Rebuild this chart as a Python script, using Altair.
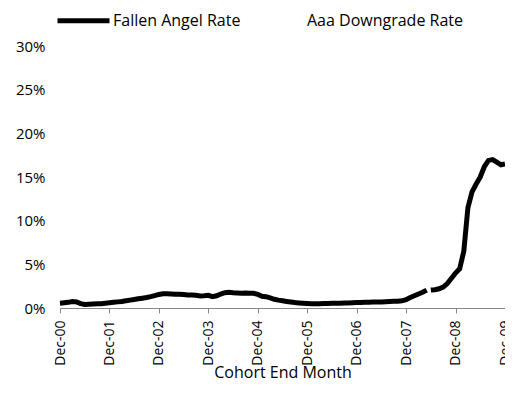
import altair as alt
import pandas as pd

# month index (0 = Dec-00); 89.5 is a break in the series
months = list(range(0, 90)) + [89.5] + list(range(90, 109))

fallen_angel = [
    0.55, 0.60, 0.65, 0.75, 0.70, 0.50, 0.40, 0.42, 0.45, 0.48, 0.50, 0.55,   # Dec-00..Nov-01
    0.60, 0.65, 0.70, 0.75, 0.82, 0.90, 0.98, 1.05, 1.12, 1.20, 1.30, 1.42,   # Dec-01..Nov-02
    1.55, 1.62, 1.62, 1.60, 1.58, 1.57, 1.55, 1.50, 1.48, 1.45, 1.38, 1.40,   # Dec-02..Nov-03
    1.45, 1.30, 1.40, 1.60, 1.75, 1.80, 1.75, 1.72, 1.70, 1.72, 1.70, 1.68,   # Dec-03..Nov-04
    1.55, 1.35, 1.30, 1.15, 1.00, 0.90, 0.82, 0.75, 0.68, 0.62, 0.58, 0.55,   # Dec-04..Nov-05
    0.52, 0.50, 0.50, 0.50, 0.52, 0.52, 0.53, 0.55, 0.55, 0.57, 0.58, 0.60,   # Dec-05..Nov-06
    0.62, 0.64, 0.65, 0.66, 0.68, 0.70, 0.70, 0.72, 0.74, 0.76, 0.78, 0.82,   # Dec-06..Nov-07
    0.95, 1.20, 1.40, 1.60, 1.80, 2.05,                                       # Dec-07..May-08
    None,                                                                     # break
    2.05, 2.10, 2.20, 2.40, 2.80, 3.40,                                       # Jun-08..Nov-08
    4.00, 4.50, 6.50, 11.50, 13.30, 14.20, 15.00, 16.20, 16.90, 17.00, 16.70, 16.40,  # Dec-08..Nov-09
    16.50,                                                                    # Dec-09
]

tick_labels = ["Dec-00", "Dec-01", "Dec-02", "Dec-03", "Dec-04",
               "Dec-05", "Dec-06", "Dec-07", "Dec-08", "Dec-09"]
series_names = ["Fallen Angel Rate", "Aaa Downgrade Rate"]
series_colors = ["#000000", "#ffffff"]

df = pd.DataFrame({
    "month": months,
    "rate": [None if v is None else v / 100 for v in fallen_angel],
    "series": series_names[0],
})

FONT = "Open Sans"
label_expr = "[" + ",".join("'" + t + "'" for t in tick_labels) + "][round(datum.value/12)]"

chart = alt.Chart(df).mark_line(strokeWidth=5, strokeCap="butt").encode(
    x=alt.X("month:Q",
            scale=alt.Scale(domain=[0, 108], nice=False, zero=False),
            axis=alt.Axis(values=[i * 12 for i in range(len(tick_labels))],
                          labelExpr=label_expr, labelAngle=270, labelFontSize=14,
                          title="Cohort End Month", grid=False,
                          domainColor="#888888", tickColor="#888888", tickSize=5,
                          labelPadding=7, titlePadding=-1)),
    y=alt.Y("rate:Q",
            scale=alt.Scale(domain=[0, 0.3], nice=False),
            axis=alt.Axis(values=[0, 0.05, 0.10, 0.15, 0.20, 0.25, 0.30],
                          format=".0%", grid=False, domain=False, ticks=False,
                          labelPadding=15, title=None)),
    color=alt.Color("series:N",
                    scale=alt.Scale(domain=series_names, range=series_colors),
                    legend=alt.Legend(orient="none", legendX=-5, legendY=-54,
                                      direction="horizontal", title=None,
                                      symbolType="stroke", symbolSize=2704,
                                      symbolStrokeWidth=5, labelOffset=1,
                                      columnPadding=0, padding=0)),
).properties(
    width=445, height=262,
    autosize=alt.AutoSizeParams(type="none"),
    padding={"left": 52, "top": 38, "right": 0, "bottom": 93},
).configure_view(stroke=None).configure_axis(
    labelFont=FONT, titleFont=FONT, labelFontSize=15, titleFontSize=16,
    labelColor="#000000", titleColor="#000000", titleFontWeight="normal",
).configure_legend(
    labelFont=FONT, labelFontSize=16, labelColor="#000000",
)

chart.save("out.html", embed_options={"renderer": "svg", "actions": False})
